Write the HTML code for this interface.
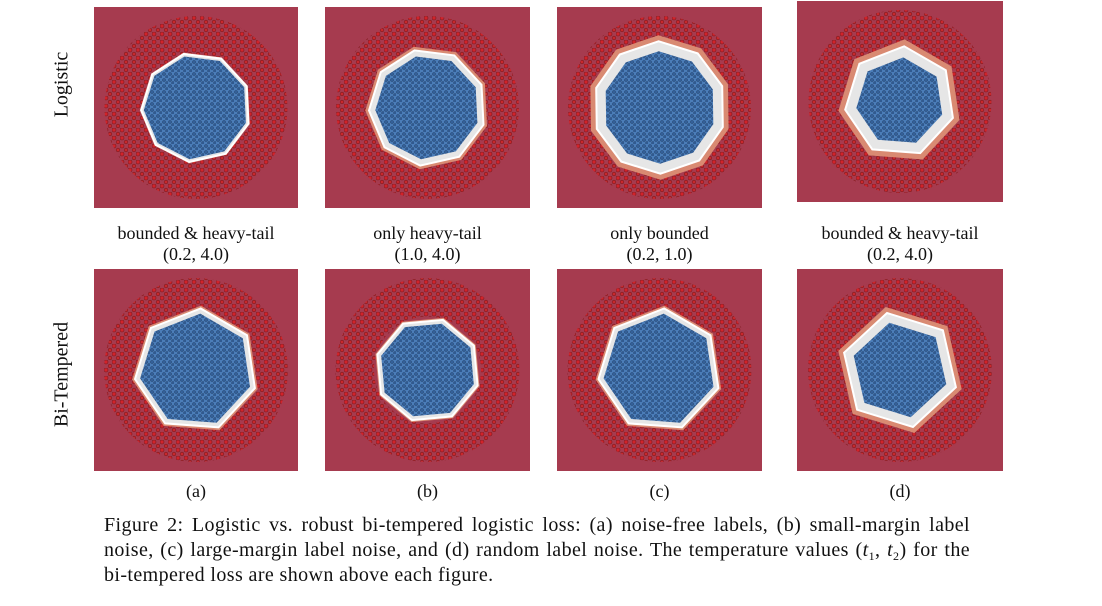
<!DOCTYPE html>
<html><head><meta charset="utf-8"><style>
body{margin:0;width:1102px;height:606px;background:#fff;overflow:hidden;font-family:"Liberation Serif",serif;color:#111}
.t{position:absolute;text-align:center;font-size:18px;line-height:21px}
.cl{display:block;width:866px;text-align:justify;text-align-last:justify;white-space:nowrap;height:25px}
sub{font-size:12px;line-height:0;vertical-align:baseline;position:relative;top:4px}
</style></head><body>
<svg id="fig" width="1102" height="606" style="position:absolute;left:0;top:0">
<defs>
<pattern id="redDots" width="8" height="8" patternUnits="userSpaceOnUse"><rect width="8" height="8" fill="#a63b4f"/><circle cx="2" cy="2" r="2" fill="#d2232a" stroke="#7a1a1f" stroke-width="0.6"/><circle cx="6" cy="6" r="1.8" fill="#c9282c" stroke="#7a1a1f" stroke-width="0.6"/></pattern>
<pattern id="blueDots" width="6" height="6" patternUnits="userSpaceOnUse"><rect width="6" height="6" fill="#4b7db8"/><circle cx="2" cy="2" r="1.5" fill="#34609a" stroke="#24446e" stroke-width="0.6"/><circle cx="5" cy="5" r="1.3" fill="#34609a" stroke="#24446e" stroke-width="0.6"/></pattern>
</defs>
</svg>
<div class="t" style="left:-8px;top:74px;width:140px;transform:rotate(-90deg);font-size:20px">Logistic</div>
<div class="t" style="left:-8px;top:364px;width:140px;transform:rotate(-90deg);font-size:20px">Bi-Tempered</div>
<div class="t" style="left:94px;top:223px;width:204px">bounded &amp; heavy-tail<br>(0.2, 4.0)</div>
<div class="t" style="left:325px;top:223px;width:205px">only heavy-tail<br>(1.0, 4.0)</div>
<div class="t" style="left:557px;top:223px;width:205px">only bounded<br>(0.2, 1.0)</div>
<div class="t" style="left:797px;top:223px;width:206px">bounded &amp; heavy-tail<br>(0.2, 4.0)</div>
<div class="t" style="left:94px;top:481px;width:204px">(a)</div>
<div class="t" style="left:325px;top:481px;width:205px">(b)</div>
<div class="t" style="left:557px;top:481px;width:205px">(c)</div>
<div class="t" style="left:797px;top:481px;width:206px">(d)</div>
<div style="position:absolute;left:104px;top:513px;font-size:20px;line-height:25px;letter-spacing:0.4px">
<span class="cl">Figure 2: Logistic vs. robust bi-tempered logistic loss: (a) noise-free labels, (b) small-margin label</span>
<span class="cl">noise, (c) large-margin label noise, and (d) random label noise. The temperature values (<i>t</i><sub>1</sub>, <i>t</i><sub>2</sub>) for the</span>
<span style="display:block">bi-tempered loss are shown above each figure.</span>
</div>
<script>
const panelX=[94,325,557,797];
const panelW=[204,205,205,206];
const rowY=[7,269];
const rowH=[201,202];
// inner blue region radius (fraction of panel) per panel, row-major
const innerR=[0.26,0.26,0.28,0.22, 0.28,0.24,0.28,0.24];
const haloW=[0.01,0.04,0.07,0.08, 0.03,0.02,0.03,0.07];
const sides=[9,9,10,7, 7,8,7,6];
const svg=document.getElementById('fig');
const NS='http://www.w3.org/2000/svg';
function mk(t,a){const e=document.createElementNS(NS,t);for(const k in a)e.setAttribute(k,a[k]);svg.appendChild(e);return e;}
function poly(cx,cy,r,n){let p=[];for(let i=0;i<n;i++){const a=i/n*2*Math.PI+0.3;p.push((cx+r*Math.cos(a)).toFixed(1)+','+(cy+r*Math.sin(a)).toFixed(1));}return p.join(' ');}
let k=0;
for(let r=0;r<2;r++)for(let c=0;c<4;c++,k++){
  let y=rowY[r],h=rowH[r];if(r===0&&c===3){y=1;}
  const x=panelX[c],w=panelW[c],cx=x+w/2,cy=y+h/2,s=Math.min(w,h);
  const bg=mk('rect',{x:x,y:y,width:w,height:h,fill:'#a63b4f'});
  
  
  const ring=mk('circle',{cx:cx,cy:cy,r:s*0.36,fill:'none',stroke:'url(#redDots)','stroke-width':s*0.19});
  
  
  const ri=innerR[k]*s,hw=haloW[k]*s;
  const halo=mk('polygon',{points:poly(cx,cy,ri+hw+2,sides[k]),fill:'#d98a72'});
  
  
  const wh=mk('polygon',{points:poly(cx,cy,ri+hw*0.6+1.5,sides[k]),fill:'#e6e6e6',stroke:'#fff','stroke-width':2});
  
  
  const bl=mk('polygon',{points:poly(cx,cy,ri,sides[k]),fill:'url(#blueDots)'});
  
  
}
</script>
</body></html>
